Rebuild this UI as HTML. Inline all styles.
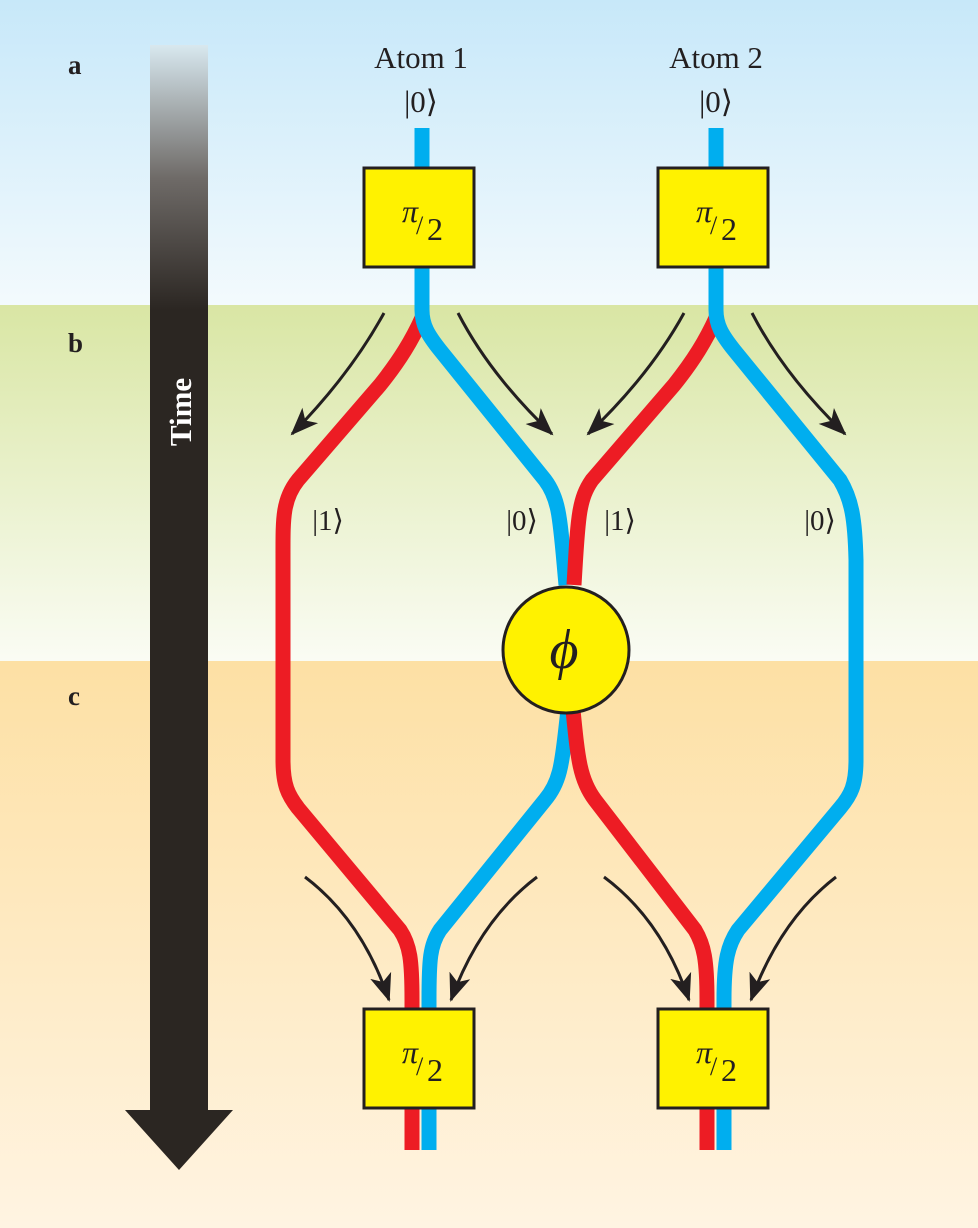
<!DOCTYPE html>
<html><head><meta charset="utf-8"><style>
html,body{margin:0;padding:0;width:978px;height:1228px;overflow:hidden}
svg{display:block}
text{font-family:"Liberation Serif",serif;fill:#231f20}
</style></head><body>
<svg width="978" height="1228" viewBox="0 0 978 1228" xmlns="http://www.w3.org/2000/svg">
<defs>
<linearGradient id="gA" x1="0" y1="0" x2="0" y2="1"><stop offset="0" stop-color="#c7e8f9"/><stop offset="1" stop-color="#f3fafd"/></linearGradient>
<linearGradient id="gB" x1="0" y1="0" x2="0" y2="1"><stop offset="0" stop-color="#d9e6a4"/><stop offset="1" stop-color="#fafcf4"/></linearGradient>
<linearGradient id="gC" x1="0" y1="0" x2="0" y2="1"><stop offset="0" stop-color="#fde0a4"/><stop offset="1" stop-color="#fff4e2"/></linearGradient>
<linearGradient id="gT" x1="0" y1="45" x2="0" y2="310" gradientUnits="userSpaceOnUse"><stop offset="0" stop-color="#d8e8ef"/><stop offset="0.5" stop-color="#6f6b68"/><stop offset="1" stop-color="#2b2622"/></linearGradient>
<marker id="ah" markerWidth="28" markerHeight="24" refX="26" refY="12" orient="auto" markerUnits="userSpaceOnUse"><path d="M0,1 L28,12 L0,23 L7,12 Z" fill="#231f20"/></marker>
</defs>
<rect x="0" y="0" width="978" height="305" fill="url(#gA)"/>
<rect x="0" y="305" width="978" height="356" fill="url(#gB)"/>
<rect x="0" y="661" width="978" height="567" fill="url(#gC)"/>

<rect x="150" y="45" width="58" height="1070" fill="url(#gT)"/>
<polygon points="125,1110 233,1110 179,1170" fill="#2b2622"/>
<text transform="translate(191,412) rotate(-90)" text-anchor="middle" font-size="31" font-weight="bold" style="fill:#fff">Time</text>

<text x="68" y="74" font-size="27" font-weight="bold">a</text>
<text x="68" y="352" font-size="27" font-weight="bold">b</text>
<text x="68" y="705" font-size="27" font-weight="bold">c</text>

<text x="421" y="68" font-size="31" text-anchor="middle">Atom 1</text>
<text x="421" y="112" font-size="31" text-anchor="middle">|0⟩</text>
<text x="716" y="68" font-size="31" text-anchor="middle">Atom 2</text>
<text x="716" y="112" font-size="31" text-anchor="middle">|0⟩</text>

<g fill="none" stroke-width="15" stroke-linejoin="round">
<path d="M422,318 C412,340 400,360 380,385 L298,480 C282,500 283,520 283,560 L283,760 C283,785 288,795 298,808 L400,930 C410,945 412,960 412,1000 L412,1150" stroke="#ed1c24"/>
<path d="M422,128 L422,310 C422,325 428,335 440,350 L545,480 C560,500 560,520 566,585" stroke="#00aeef"/>
<path d="M568,710 C562,760 562,780 545,800 L440,930 C430,945 429,960 429,1000 L429,1150" stroke="#00aeef"/>
<path d="M716,318 C706,340 694,360 674,385 L592,480 C578,500 578,520 574,585" stroke="#ed1c24"/>
<path d="M573,710 C578,760 580,780 595,800 L695,930 C704,945 707,960 707,1000 L707,1150" stroke="#ed1c24"/>
<path d="M716,128 L716,310 C716,325 722,335 734,350 L840,480 C852,500 855,520 856,560 L856,760 C856,785 851,795 840,808 L738,930 C728,945 724,960 724,1000 L724,1150" stroke="#00aeef"/>
</g>

<g fill="none" stroke="#231f20" stroke-width="3" marker-end="url(#ah)">
<path d="M384,313 Q350,375 292,434"/>
<path d="M458,313 Q490,375 552,434"/>
<path d="M684,313 Q650,375 588,434"/>
<path d="M752,313 Q784,375 845,434"/>
<path d="M305,877 Q362,920 389,1000"/>
<path d="M537,877 Q480,920 451,1000"/>
<path d="M604,877 Q662,920 689,1000"/>
<path d="M836,877 Q780,920 751,1000"/>
</g>

<text x="328" y="530" font-size="29" text-anchor="middle">|1⟩</text>
<text x="522" y="530" font-size="29" text-anchor="middle">|0⟩</text>
<text x="620" y="530" font-size="29" text-anchor="middle">|1⟩</text>
<text x="820" y="530" font-size="29" text-anchor="middle">|0⟩</text>

<g stroke="#231f20" stroke-width="3" fill="#fff200">
<rect x="364" y="168" width="110" height="99"/>
<rect x="658" y="168" width="110" height="99"/>
<rect x="364" y="1009" width="110" height="99"/>
<rect x="658" y="1009" width="110" height="99"/>
<circle cx="566" cy="650" r="63"/>
</g>
<text x="564" y="668" font-size="56" font-style="italic" text-anchor="middle">ϕ</text>

<g font-size="32">
<text x="402" y="222" font-style="italic">π</text><text x="416" y="234" font-size="26">/</text><text x="427" y="240">2</text>
<text x="696" y="222" font-style="italic">π</text><text x="710" y="234" font-size="26">/</text><text x="721" y="240">2</text>
<text x="402" y="1063" font-style="italic">π</text><text x="416" y="1075" font-size="26">/</text><text x="427" y="1081">2</text>
<text x="696" y="1063" font-style="italic">π</text><text x="710" y="1075" font-size="26">/</text><text x="721" y="1081">2</text>
</g>
</svg>
</body></html>
